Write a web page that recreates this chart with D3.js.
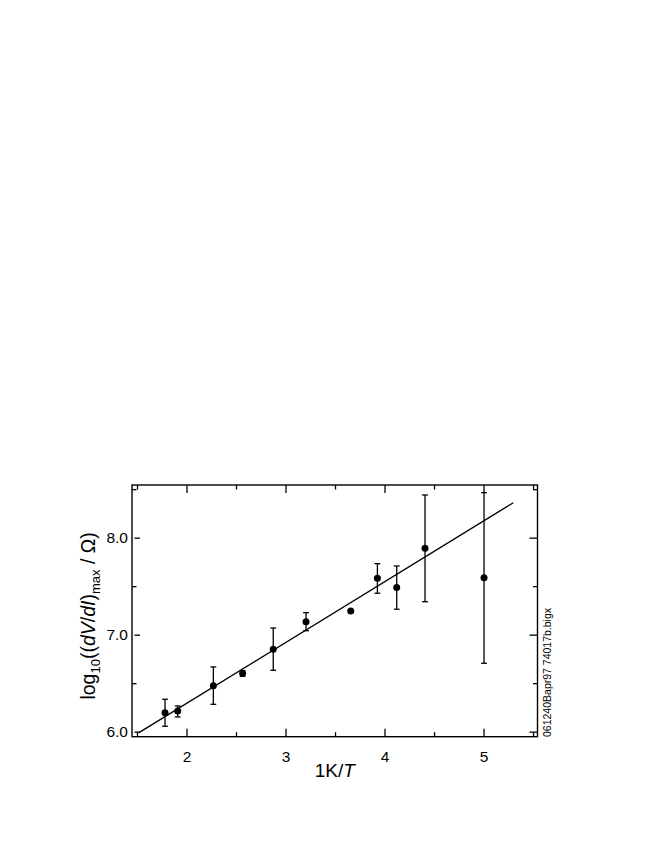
<!DOCTYPE html>
<html><head><meta charset="utf-8">
<script src="https://cdn.jsdelivr.net/npm/d3@7"></script>
<style>body{margin:0;background:#fff;} text{font-family:"Liberation Sans",Arial,sans-serif;}</style>
</head><body>
<svg id="c" width="664" height="860"></svg>
<script>
// Data
const invT   = [1.783, 1.911, 2.271, 2.567, 2.876, 3.207, 3.659, 3.928, 4.123, 4.409, 5.005];
const logR   = [6.196, 6.213, 6.474, 6.602, 6.849, 7.134, 7.244, 7.581, 7.485, 7.891, 7.588];
const errHi  = [6.334, 6.265, 6.667, 6.626, 7.069, 7.227, 7.255, 7.732, 7.708, 8.440, 8.464];
const errLo  = [6.056, 6.152, 6.282, 6.571, 6.633, 7.041, 7.233, 7.427, 7.262, 7.340, 6.705];
const fitX   = [1.52, 5.30];
const fitY   = [5.99, 8.36];
const xTicks = [2, 3, 4, 5];
const xMinor = [1.5, 2.5, 3.5, 4.5, 5.5];
const yTicks = [6.0, 7.0, 8.0];
const yMinor = [6.5, 7.5, 8.5];
const fileLabel = "061240Bapr97 74017b.bigx";

const svg = d3.select("#c");
const L = 132, R = 537.5, T = 485, B = 736.7;
const x = d3.scaleLinear().domain([1.4495, 5.545]).range([L, R]);
const y = d3.scaleLinear().domain([5.948, 8.543]).range([B, T]);

const g = svg.append("g");
// frame
g.append("rect").attr("x", L).attr("y", T).attr("width", R - L).attr("height", B - T)
  .attr("fill", "none").attr("stroke", "#000").attr("stroke-width", 1.4);

const major = 8, minor = 4.5;
function addAxis(axisGen, tr) {
  const a = g.append("g").attr("transform", tr).call(axisGen);
  a.select(".domain").remove();
  a.selectAll("line").attr("stroke", "#000").attr("stroke-width", 1.3);
  return a;
}
// bottom
const xb = addAxis(d3.axisBottom(x).tickValues(xTicks).tickSize(-major).tickPadding(14).tickFormat(d3.format("d")), `translate(0,${B})`);
xb.selectAll("text").attr("font-size", 15.5).attr("fill", "#000");
addAxis(d3.axisBottom(x).tickValues(xMinor).tickSize(-minor).tickFormat(""), `translate(0,${B})`);
// top
addAxis(d3.axisTop(x).tickValues(xTicks).tickSize(-major).tickFormat(""), `translate(0,${T})`);
addAxis(d3.axisTop(x).tickValues(xMinor).tickSize(-minor).tickFormat(""), `translate(0,${T})`);
// left
const yl = addAxis(d3.axisLeft(y).tickValues(yTicks).tickSize(-major).tickPadding(4).tickFormat(d3.format(".1f")), `translate(${L},0)`);
yl.selectAll("text").attr("font-size", 15.5).attr("fill", "#000");
yl.selectAll("line").attr("x1", 2.5);
addAxis(d3.axisLeft(y).tickValues(yMinor).tickSize(-minor).tickFormat(""), `translate(${L},0)`);
// right
addAxis(d3.axisRight(y).tickValues(yTicks).tickSize(-major).tickFormat(""), `translate(${R},0)`);
addAxis(d3.axisRight(y).tickValues(yMinor).tickSize(-minor).tickFormat(""), `translate(${R},0)`);

// fit line
g.append("line").attr("x1", x(fitX[0])).attr("y1", y(fitY[0]))
  .attr("x2", x(fitX[1])).attr("y2", y(fitY[1]))
  .attr("stroke", "#000").attr("stroke-width", 1.4);

// error bars
const idx = d3.range(invT.length);
const cap = 2.9;
const eb = g.append("g").attr("stroke", "#000").attr("stroke-width", 1.3);
idx.forEach(i => {
  const cx = x(invT[i]);
  eb.append("line").attr("x1", cx).attr("x2", cx).attr("y1", y(errHi[i])).attr("y2", y(errLo[i]));
  eb.append("line").attr("x1", cx - cap).attr("x2", cx + cap).attr("y1", y(errHi[i])).attr("y2", y(errHi[i]));
  eb.append("line").attr("x1", cx - cap).attr("x2", cx + cap).attr("y1", y(errLo[i])).attr("y2", y(errLo[i]));
});
// points
g.append("g").selectAll("circle").data(idx).join("circle")
  .attr("cx", i => x(invT[i])).attr("cy", i => y(logR[i])).attr("r", 3.5).attr("fill", "#000");

// x title
const xt = svg.append("text").attr("x", (L + R) / 2).attr("y", 776.5).attr("text-anchor", "middle")
  .attr("font-size", 19).attr("fill", "#000");
xt.append("tspan").text("1K/");
xt.append("tspan").attr("font-style", "italic").text("T");

// y title
const yt = svg.append("text").attr("transform", `translate(95,${(T + B) / 2 + 5}) rotate(-90)`)
  .attr("text-anchor", "middle").attr("font-size", 19.5).attr("fill", "#000");
yt.append("tspan").text("log");
yt.append("tspan").attr("font-size", 13).attr("dy", 5).text("10");
yt.append("tspan").attr("dy", -5).text("((");
yt.append("tspan").attr("font-style", "italic").text("dV");
yt.append("tspan").text("/");
yt.append("tspan").attr("font-style", "italic").text("dI");
yt.append("tspan").text(")");
yt.append("tspan").attr("font-size", 13).attr("dy", 5).text("max");
yt.append("tspan").attr("dy", -5).text(" / Ω)");

// file label
svg.append("text").attr("transform", `translate(550.5,737) rotate(-90)`)
  .attr("font-size", 10.5).attr("fill", "#000").text(fileLabel);
</script>
</body></html>
